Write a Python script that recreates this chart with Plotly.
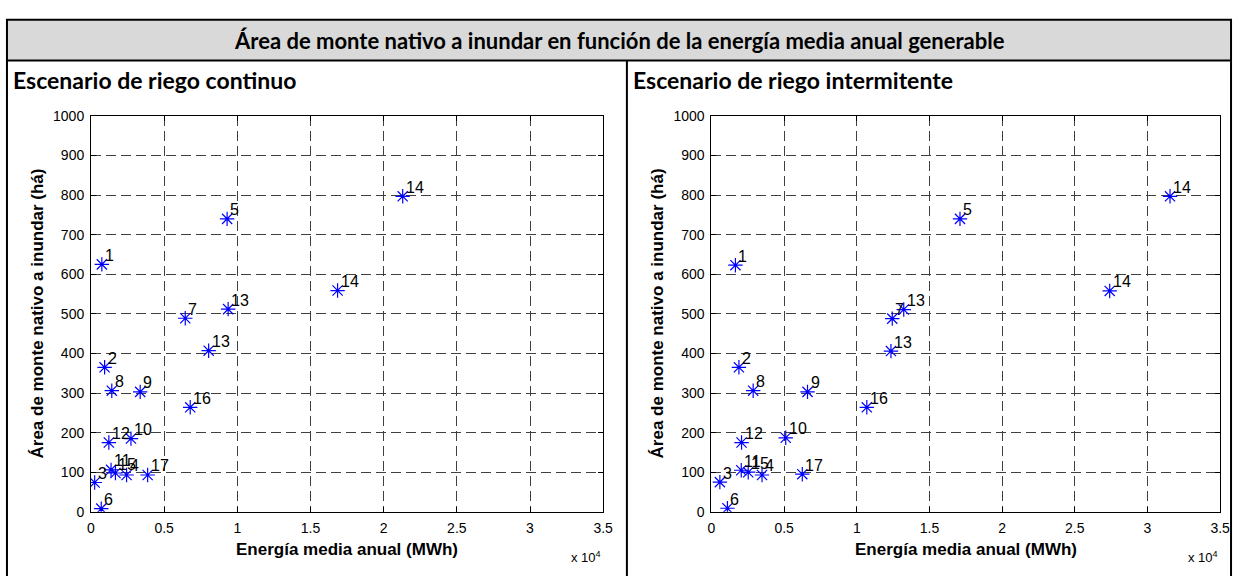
import plotly.graph_objects as go

# ---------------- data ----------------
point_labels = ["1", "2", "3", "4", "5", "6", "7", "8", "9", "10", "11", "12",
                "13", "13", "14", "14", "15", "16", "17"]

# Escenario de riego continuo: energía (MWh), área (há)
cont_energy = [740, 930, 250, 2430, 9300, 700, 6440, 1420, 3360, 2730, 1370, 1220,
               9370, 8040, 21300, 16850, 1670, 6780, 3870]
cont_area = [625, 365, 74, 93, 740, 8, 489, 306, 303, 185, 106, 175,
             512, 407, 797, 559, 98, 264, 93]

# Escenario de riego intermitente
inter_energy = [1650, 1890, 580, 3480, 17100, 1100, 12440, 2870, 6610, 5110, 2050, 2070,
                13230, 12350, 31550, 27400, 2530, 10690, 6250]
inter_area = [623, 365, 75, 93, 740, 9, 488, 306, 303, 187, 105, 175,
              511, 406, 797, 558, 100, 264, 95]

x_tickvals = [0, 5000, 10000, 15000, 20000, 25000, 30000, 35000]
x_ticktext = ["0", "0.5", "1", "1.5", "2", "2.5", "3", "3.5"]
y_tickvals = [0, 100, 200, 300, 400, 500, 600, 700, 800, 900, 1000]

main_title = "Área de monte nativo a inundar en función de la energía media anual generable"
sub_titles = ["Escenario de riego continuo", "Escenario de riego intermitente"]
x_title = "Energía media anual (MWh)"
y_title = "Área de monte nativo a inundar (há)"

# ---------------- layout helpers ----------------
W, H = 1244, 584
def px(x):
    return x / W
def py(y):
    return 1 - y / H

SANS = "Liberation Sans, Arial, sans-serif"
TICK_FONT = dict(family=SANS, size=14, color="black")
LABEL_FONT = dict(family=SANS, size=16, color="black")
AXT_FONT = dict(family=SANS, size=17, color="black")
HEAD_FONT = "Lato, Carlito, Calibri, sans-serif"

fig = go.Figure()

series = [(cont_energy, cont_area, "x", "y"), (inter_energy, inter_area, "x2", "y2")]
for ex, ar, xa, ya in series:
    fig.add_trace(go.Scatter(
        x=ex, y=ar, xaxis=xa, yaxis=ya, mode="markers",
        marker=dict(symbol="asterisk-open", size=12, color="#0000FF",
                    line=dict(color="#0000FF", width=1.2)),
        showlegend=False, hoverinfo="x+y",
    ))

annotations = []
for ex, ar, xa, ya in series:
    for lab, xv, yv in zip(point_labels, ex, ar):
        annotations.append(dict(
            x=xv, y=yv, xref=xa, yref=ya, text=lab, showarrow=False,
            xanchor="left", yanchor="middle", xshift=1, yshift=9, font=LABEL_FONT,
        ))

axis_common = dict(
    showgrid=True, gridcolor="#404040", griddash="10px,5px", gridwidth=1,
    showline=True, linecolor="black", linewidth=1, mirror="ticks",
    ticks="inside", ticklen=5, tickcolor="black", tickwidth=1,
    zeroline=False, tickfont=TICK_FONT,
)

x_domains = [[px(88), px(606)], [px(715.5), px(1230)]]
y_domain = [py(518), py(111)]
ytitle_x = [34, 661]

layout_axes = {}
for i, (xa, ya) in enumerate([("xaxis", "yaxis"), ("xaxis2", "yaxis2")]):
    layout_axes[xa] = dict(
        axis_common, domain=x_domains[i], range=[0, 35000],
        tickvals=x_tickvals, ticktext=x_ticktext, anchor="y" if i == 0 else "y2",
        ticklabelstandoff=3,
    )
    layout_axes[ya] = dict(
        axis_common, domain=y_domain, range=[0, 1000],
        tickvals=y_tickvals, anchor="x" if i == 0 else "x2",
        ticklabelstandoff=3,
    )
    # axis titles
    annotations.append(dict(
        x=(x_domains[i][0] + x_domains[i][1]) / 2, y=py(557), xref="paper", yref="paper",
        text="<b>" + x_title + "</b>", showarrow=False, xanchor="center", yanchor="middle",
        font=AXT_FONT,
    ))
    annotations.append(dict(
        x=px(ytitle_x[i]), y=(y_domain[0] + y_domain[1]) / 2, xref="paper", yref="paper",
        text="<b>" + y_title + "</b>", showarrow=False, xanchor="center", yanchor="middle",
        textangle=-90, font=AXT_FONT,
    ))
    # x 10^4 multiplier
    annotations.append(dict(
        x=x_domains[i][1], y=py(564), xref="paper", yref="paper",
        text="x 10<sup>4</sup>", showarrow=False, xanchor="right", yanchor="middle",
        font=dict(family=SANS, size=13, color="black"),
    ))

# headings
annotations.append(dict(
    x=0.5, y=py(33), xref="paper", yref="paper", text="<b>" + main_title + "</b>",
    showarrow=False, xanchor="center", yanchor="middle",
    font=dict(family=HEAD_FONT, size=22, color="black"),
))
annotations.append(dict(
    x=px(7), y=py(74), xref="paper", yref="paper", text="<b>" + sub_titles[0] + "</b>",
    showarrow=False, xanchor="left", yanchor="middle",
    font=dict(family=HEAD_FONT, size=23, color="black"),
))
annotations.append(dict(
    x=px(634), y=py(74), xref="paper", yref="paper", text="<b>" + sub_titles[1] + "</b>",
    showarrow=False, xanchor="left", yanchor="middle",
    font=dict(family=HEAD_FONT, size=23, color="black"),
))

shapes = [
    dict(type="rect", xref="paper", yref="paper", x0=px(3), x1=px(1241), y0=py(54), y1=py(12),
         fillcolor="#D9D9D9", line=dict(color="black", width=2), layer="below"),
    dict(type="line", xref="paper", yref="paper", x0=px(3), x1=px(3), y0=py(54), y1=py(584),
         line=dict(color="black", width=2)),
    dict(type="line", xref="paper", yref="paper", x0=px(1241), x1=px(1241), y0=py(54), y1=py(584),
         line=dict(color="black", width=2)),
    dict(type="line", xref="paper", yref="paper", x0=px(630), x1=px(630), y0=py(54), y1=py(584),
         line=dict(color="black", width=2)),
]

fig.update_layout(
    width=W, height=H, margin=dict(l=0, r=0, t=0, b=0),
    paper_bgcolor="white", plot_bgcolor="white",
    annotations=annotations, shapes=shapes, showlegend=False,
    **layout_axes,
)

fig.write_html(
    "out.html",
    config={"displayModeBar": False},
    post_script="document.body.style.margin='0px';document.body.style.overflow='hidden';",
)
